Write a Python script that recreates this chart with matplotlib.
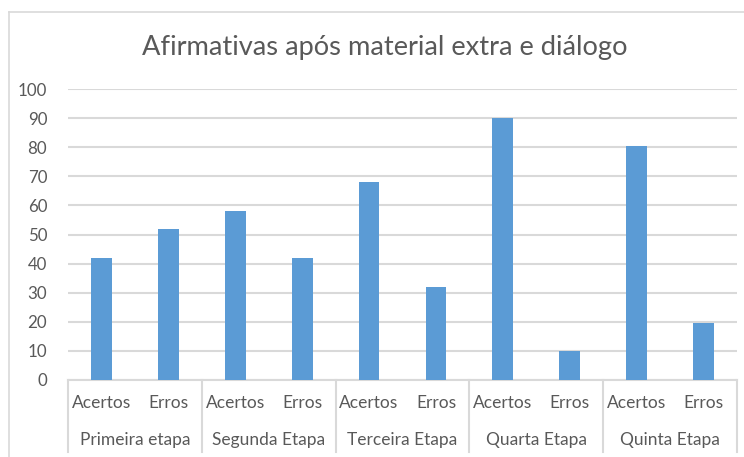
import matplotlib
matplotlib.use("Agg")
import matplotlib.pyplot as plt
from matplotlib.lines import Line2D

# data
etapas = ["Primeira etapa", "Segunda Etapa", "Terceira Etapa", "Quarta Etapa", "Quinta Etapa"]
sub_labels = ["Acertos", "Erros"]
acertos = [42, 58, 68, 90, 80.5]
erros = [52, 42, 32, 10, 19.5]

W, H = 744, 457
bar_color = "#5b9bd5"
grid_color = "#d9d9d9"
text_color = "#595959"

plt.rcParams["font.family"] = ["Lato", "DejaVu Sans"]

fig = plt.figure(figsize=(W / 100, H / 100), dpi=100)
left, right, top, bottom = 68, 737, 89, 380
ax = fig.add_axes([left / W, 1 - bottom / H, (right - left) / W, (bottom - top) / H])

# interleave the two series: Acertos, Erros for each etapa
values = []
for a, e in zip(acertos, erros):
    values += [a, e]
xs = [i + 0.5 for i in range(len(values))]
ax.bar(xs, values, width=0.31, color=bar_color, zorder=3)

ax.set_xlim(0, len(values))
ax.set_ylim(0, 100)
ax.set_yticks(range(0, 101, 10))
ax.yaxis.grid(True, color=grid_color, linewidth=1.5, zorder=0)
ax.tick_params(axis="y", length=0, pad=15, labelsize=12.2, labelcolor=text_color)
ax.set_xticks([])
for s in ["top", "right", "left"]:
    ax.spines[s].set_visible(False)
ax.spines["bottom"].set_color(grid_color)
ax.spines["bottom"].set_linewidth(1.5)

# multi-level category axis
px = 1 / (bottom - top)  # one pixel in axes-y units
trans = ax.get_xaxis_transform()
for g in range(len(etapas) + 1):
    ax.plot([2 * g, 2 * g], [0, -(452 - bottom) * px], transform=trans,
            color=grid_color, linewidth=1.5, clip_on=False)
for i, x in enumerate(xs):
    ax.text(x, -(403 - bottom) * px, sub_labels[i % 2], transform=trans,
            ha="center", va="center", fontsize=12.5, color=text_color)
for g, name in enumerate(etapas):
    ax.text(2 * g + 1, -(440 - bottom) * px, name, transform=trans,
            ha="center", va="center", fontsize=12.5, color=text_color)

fig.text(385 / W, 1 - 47 / H, "Afirmativas após material extra e diálogo",
         ha="center", va="center", fontsize=19.6, color=text_color)

# outer chart border (left and top edges visible in the crop)
fig.add_artist(Line2D([9 / W, 9 / W], [0, 1 - 12 / H], transform=fig.transFigure,
                      color=grid_color, linewidth=1.2))
fig.add_artist(Line2D([9 / W, 1], [1 - 12 / H, 1 - 12 / H], transform=fig.transFigure,
                      color=grid_color, linewidth=1.2))

fig.savefig("out.png", dpi=100)
